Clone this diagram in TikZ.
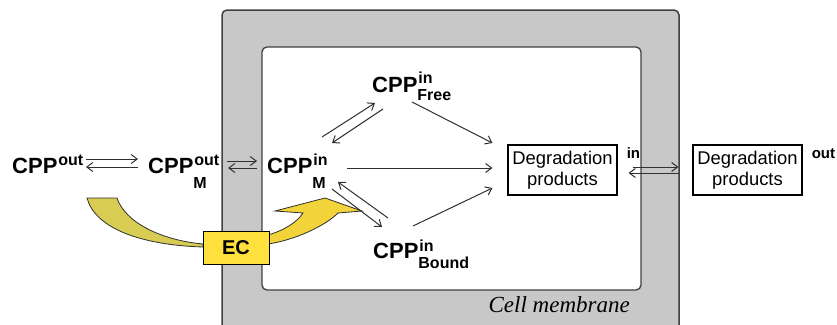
\documentclass[tikz,border=0pt]{standalone}
\usepackage{fontspec}
\setmainfont{Liberation Sans}
\newfontfamily\cellfont{Liberation Serif}
\usetikzlibrary{arrows.meta,calc}
\definecolor{memgray}{HTML}{C8C8C8}
\definecolor{edgegray}{HTML}{404040}
\definecolor{linegray}{HTML}{303030}
\definecolor{yelL}{HTML}{D8CC52}
\definecolor{yelR}{HTML}{F2D43A}
\definecolor{ecyel}{HTML}{FFE03C}
\newsavebox\cppsupbox
\newsavebox\cppsubbox
\newcommand\supfont{\fontsize{16}{16}\selectfont\bfseries}
\newcommand\cpplab[4]{% sup, sub, raise, drop
CPP\sbox\cppsupbox{\supfont #1}\sbox\cppsubbox{\supfont #2}%
\ifdim\wd\cppsupbox>\wd\cppsubbox
\rlap{\raisebox{-#4}{\usebox\cppsubbox}}\kern1pt\raisebox{#3}{\usebox\cppsupbox}%
\else
\rlap{\kern1pt\raisebox{#3}{\usebox\cppsupbox}}\raisebox{-#4}{\usebox\cppsubbox}%
\fi}
\tikzset{
  cpp/.style={font=\fontsize{22}{22}\selectfont\bfseries, inner sep=0pt, anchor=base west},
  arr/.style={draw=linegray, line width=1pt, -{Straight Barb[length=6pt,width=9pt]}},
  degbox/.style={draw=black, line width=1.1pt, fill=white, minimum width=109pt, minimum height=50pt,
    align=center, inner sep=0pt, font=\fontsize{18.4}{21}\selectfont},
  tag/.style={font=\fontsize{15}{15}\selectfont\bfseries, inner sep=0pt, anchor=base west},
  ecbox/.style={draw=black, line width=1pt, fill=ecyel, minimum width=66pt, minimum height=33pt,
    inner sep=0pt, font=\fontsize{20}{20}\selectfont\bfseries},
  yarrow/.style={draw=linegray, line width=0.8pt}
}
\begin{document}
\begin{tikzpicture}[x=1pt,y=-1pt]
\useasboundingbox (0,0) rectangle (837,324);
\clip (0,0) rectangle (837,324);
% membrane
\draw[fill=memgray, draw=edgegray, line width=1.5pt, rounded corners=5pt] (222,10) rectangle (679,345);
\draw[fill=white, draw=edgegray, line width=1.3pt, rounded corners=5pt] (262,47) rectangle (641,290);
\node[font=\cellfont\itshape\fontsize{23}{23}\selectfont, inner sep=0pt, anchor=base east] (cm) at (630,312) {Cell membrane};
% labels
\node[cpp] (o) at (12,173) {\cpplab{out}{}{8pt}{15pt}};
\node[cpp] (om) at (148,173) {\cpplab{out}{M}{8pt}{15pt}};
\node[cpp] (im) at (267,173) {\cpplab{in}{M}{8pt}{15pt}};
\node[cpp] (fr) at (372,92) {\cpplab{in}{Free}{9pt}{8pt}};
\node[cpp] (bd) at (373,258) {\cpplab{in}{Bound}{7pt}{10pt}};
\node[degbox] (dgi) at (562.5,170) {Degradation\\products};
\node[degbox] (dgo) at (747.5,170) {Degradation\\products};
\node[tag] (tin) at ($(dgi.north east)+(9,14)$) {in};
\node[tag] (tout) at ($(dgo.north east)+(9,14)$) {out};
% yellow arrows
\draw[yarrow, fill=yelL] (87,198) -- (117,198) .. controls (125,222) and (160,240) .. (203,244)
  -- (203,247) .. controls (140,245) and (95,228) .. (87,198) -- cycle;
\draw[yarrow, fill=yelR] (268,235) .. controls (285,230) and (297,222) .. (303,213)
  -- (275,211) -- (325,198) -- (362,211) -- (338,213)
  .. controls (325,226) and (295,240) .. (268,244) -- cycle;
\node[ecbox] (ec) at (236,247.5) {EC};
% connectors
\draw[arr] ($(o.base west)+(74,-14)$) -- ($(om.base west)+(-10,-14)$);
\draw[arr] ($(om.base west)+(-10,-6)$) -- ($(o.base west)+(74,-6)$);
\draw[arr] ($(om.base west)+(79,-12)$) -- ($(im.base west)+(-10,-12)$);
\draw[arr] ($(im.base west)+(-10,-5)$) -- ($(om.base west)+(80,-5)$);
\draw[arr] ($(im.base west)+(55,-36)$) -- ($(fr.base west)+(3,11)$);
\draw[arr] ($(fr.base west)+(11,17)$) -- ($(im.base west)+(65,-30)$);
\draw[arr] ($(bd.base west)+(15,-40)$) -- ($(im.base west)+(71,9)$);
\draw[arr] ($(im.base west)+(65,16)$) -- ($(bd.base west)+(9,-31)$);
\draw[arr] ($(fr.base west)+(40,10)$) -- ($(dgi.west)+(-15,-27)$);
\draw[arr] ($(im.base west)+(80,-5)$) -- ($(dgi.west)+(-15,-2)$);
\draw[arr] ($(bd.base west)+(40,-32)$) -- ($(dgi.west)+(-15,18)$);
\draw[arr] ($(dgi.east)+(15,-3)$) -- ($(dgo.west)+(-14,-3)$);
\draw[arr] ($(dgo.west)+(-13,3)$) -- ($(dgi.east)+(11,3)$);
\end{tikzpicture}
\end{document}
